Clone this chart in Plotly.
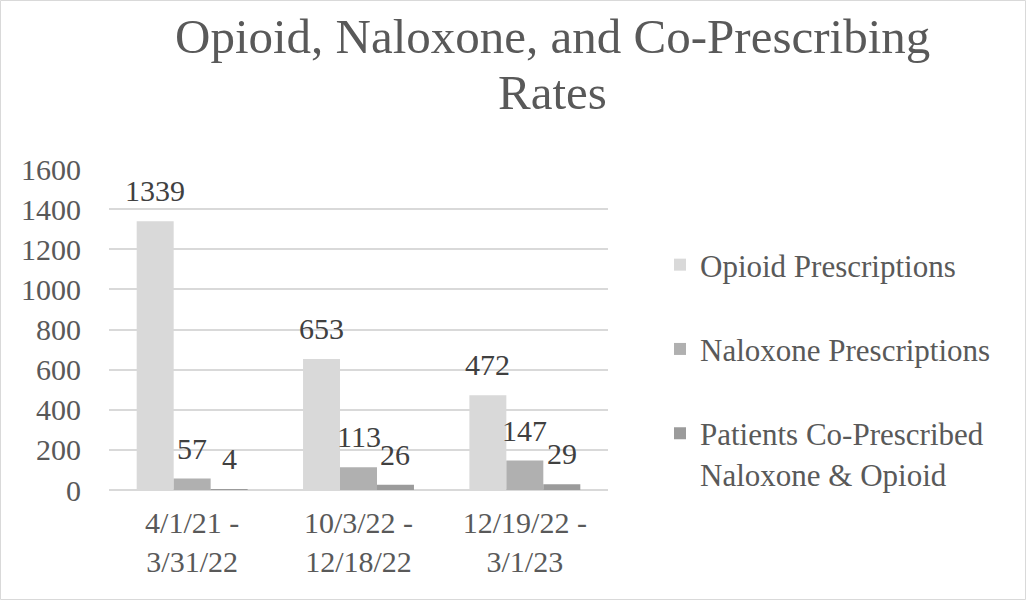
import plotly.graph_objects as go

periods = ["4/1/21 -<br>3/31/22", "10/3/22 -<br>12/18/22", "12/19/22 -<br>3/1/23"]
series_names = ["Opioid Prescriptions", "Naloxone Prescriptions",
                "Patients Co-Prescribed<br>Naloxone & Opioid"]
opioid = [1339, 653, 472]
naloxone = [57, 113, 147]
co_prescribed = [4, 26, 29]
y_ticks = [0, 200, 400, 600, 800, 1000, 1200, 1400, 1600]
title_lines = ["Opioid, Naloxone, and Co-Prescribing", "Rates"]

colors = ["#d9d9d9", "#b0b0b0", "#9b9b9b"]
series = [opioid, naloxone, co_prescribed]
FONT = "Liberation Serif, Times New Roman, serif"

W, H = 1026, 600
ML, MR, MT, MB = 109, 418, 169, 110
BARGAP = 0.333

fig = go.Figure()
for i, (name, vals) in enumerate(zip(series_names, series)):
    fig.add_trace(go.Bar(
        x=list(range(len(periods))), y=vals, name=name,
        marker=dict(color=colors[i], line=dict(width=0)),
        legendgroup=f"g{i}",
    ))

pw, ph = W - ML - MR, H - MT - MB


def paper_y(px):
    """Convert a pixel row (from the top) to paper y."""
    return (H - MB - px) / ph


# value labels above each bar
n = len(series)
bw = (1 - BARGAP) / n
annotations = []
for i, vals in enumerate(series):
    off = (i - (n - 1) / 2) * bw
    for j, v in enumerate(vals):
        annotations.append(dict(
            x=j + off, y=v, xref="x", yref="y", text=str(v),
            showarrow=False, yanchor="bottom", yshift=12,
            font=dict(family=FONT, size=30, color="#404040"),
        ))

# two-line chart title
for k, line in enumerate(title_lines):
    annotations.append(dict(
        x=(552 - ML) / pw, y=paper_y(37 + 56 * k), xref="paper", yref="paper",
        text=line, showarrow=False, xanchor="center", yanchor="middle",
        font=dict(family=FONT, size=49, color="#595959"),
    ))

# light outline around the whole chart
fig.add_shape(type="rect", xref="paper", yref="paper",
              x0=-ML / pw + 0.5 / pw, x1=1 + MR / pw - 0.5 / pw,
              y0=-MB / ph + 0.5 / ph, y1=1 + MT / ph - 0.5 / ph,
              line=dict(color="#d9d9d9", width=1))

fig.update_layout(
    width=W, height=H,
    margin=dict(l=ML, r=MR, t=MT, b=MB),
    paper_bgcolor="white", plot_bgcolor="white",
    barmode="group", bargap=BARGAP, bargroupgap=0,
    font=dict(family=FONT, color="#595959"),
    xaxis=dict(tickmode="array", tickvals=list(range(len(periods))),
               ticktext=periods, range=[-0.5, len(periods) - 0.5],
               showgrid=False, zeroline=False, showline=False,
               tickfont=dict(family=FONT, size=30, color="#595959"),
               ticklabelstandoff=12),
    yaxis=dict(range=[0, 1600], tickvals=y_ticks,
               showgrid=True, gridcolor="#d9d9d9", gridwidth=1.5,
               zeroline=True, zerolinecolor="#d9d9d9", zerolinewidth=1.5,
               showline=False,
               tickfont=dict(family=FONT, size=30, color="#595959"),
               ticklabelstandoff=27),
    legend=dict(x=(660 - ML) / pw, y=paper_y(238), xanchor="left",
                yanchor="top", valign="top",
                font=dict(family=FONT, size=31, color="#595959"),
                tracegroupgap=41, itemwidth=30, bgcolor="rgba(0,0,0,0)"),
    annotations=annotations,
)

fig.write_html("out.html")
